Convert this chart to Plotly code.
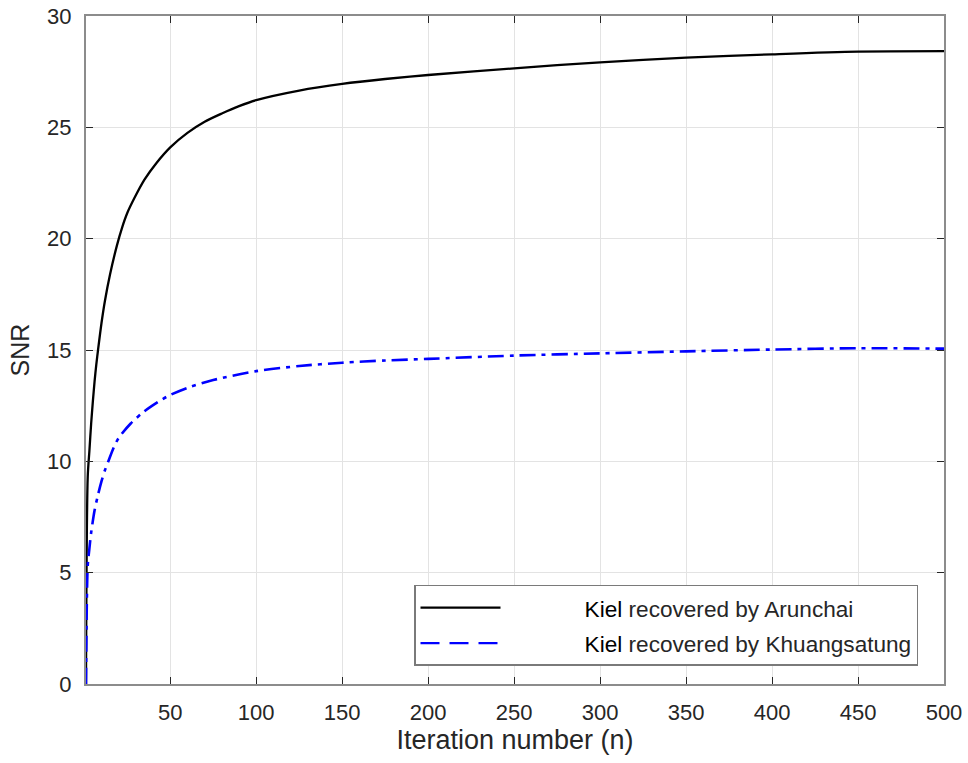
import plotly.graph_objects as go

# Data
n_arun = [1, 2, 3, 4, 5, 6, 7, 8, 10, 12, 15, 19, 22, 25, 29, 35, 42, 50, 60, 70, 80, 90,
          100, 125, 150, 175, 200, 250, 300, 350, 400, 450, 500]
snr_arun = [0, 9.3, 10.5, 11.7, 12.7, 13.6, 14.35, 15.0, 16.2, 17.2, 18.4, 19.7, 20.5, 21.15,
            21.8, 22.65, 23.4, 24.1, 24.75, 25.25, 25.62, 25.95, 26.22, 26.65, 26.95, 27.17,
            27.35, 27.65, 27.92, 28.13, 28.28, 28.4, 28.42]

n_khu = [1, 2, 3, 4, 6, 8, 10, 12, 14, 17, 20, 27, 35, 45, 50, 60, 75, 100, 125, 150, 175,
         200, 250, 300, 350, 400, 450, 500]
snr_khu = [0, 5.3, 6.1, 6.8, 7.8, 8.5, 9.1, 9.6, 10.0, 10.6, 11.05, 11.7, 12.25, 12.77, 12.98,
           13.3, 13.65, 14.05, 14.28, 14.43, 14.53, 14.6, 14.75, 14.85, 14.94, 15.02,
           15.08, 15.06]

legend_names = ["Kiel recovered by Arunchai", "Kiel recovered by Khuangsatung"]
x_ticks = [50, 100, 150, 200, 250, 300, 350, 400, 450, 500]
y_ticks = [0, 5, 10, 15, 20, 25, 30]

FONT = "Liberation Sans, Arial, sans-serif"
TXT = "#262626"
pad = "\u2003\u2003\u2003\u2002"


def legend_label(name):
    first, rest = name.split(" ", 1)
    return pad + "<span style='color:#000000'>" + first + "</span> " + rest


fig = go.Figure()
fig.add_trace(go.Scatter(x=n_arun, y=snr_arun, mode="lines", showlegend=False,
                         line=dict(color="black", width=2.3, shape="spline", smoothing=0.8)))
fig.add_trace(go.Scatter(x=n_khu, y=snr_khu, mode="lines", showlegend=False,
                         line=dict(color="#0000ff", width=2.6, dash="16px,6px,4px,6px",
                                   shape="spline", smoothing=0.8)))
# legend entries (the reference legend shows a dashed sample for the blue series)
fig.add_trace(go.Scatter(x=[None], y=[None], mode="lines", name=legend_label(legend_names[0]),
                         legendgroup="a", line=dict(color="black", width=2.3)))
fig.add_trace(go.Scatter(x=[None], y=[None], mode="lines", name=legend_label(legend_names[1]),
                         legendgroup="b", line=dict(color="#0000ff", width=2.3, dash="19px,10px")))

axis_common = dict(
    showline=True, linecolor="#8c8c8c", linewidth=2, mirror="ticks",
    ticks="inside", ticklen=7, tickcolor="#262626", tickwidth=1,
    showgrid=True, gridcolor="#e3e3e3", gridwidth=1, zeroline=False,
    tickfont=dict(family=FONT, size=22, color=TXT), ticklabelstandoff=8,
    ticklabeloverflow="allow", automargin=False,
)

fig.update_layout(
    width=968, height=763,
    margin=dict(l=86, r=24, t=16, b=79),
    paper_bgcolor="white", plot_bgcolor="white",
    font=dict(family=FONT, color=TXT),
    xaxis=dict(range=[1, 500], tickvals=x_ticks,
               title=dict(text="Iteration number (n)", font=dict(family=FONT, size=27, color=TXT),
                          standoff=6),
               **axis_common),
    yaxis=dict(range=[0, 30], tickvals=y_ticks,
               title=dict(text="SNR", font=dict(family=FONT, size=25, color=TXT), standoff=10),
               **axis_common),
    legend=dict(x=0.9697, y=0.0876, xanchor="right", yanchor="middle",
                bgcolor="white", bordercolor="#7a7a7a", borderwidth=1.5,
                font=dict(family=FONT, size=22.6, color=TXT),
                itemwidth=80, traceorder="grouped", tracegroupgap=3),
)

fig.write_html("out.html", config={"displayModeBar": False},
               post_script="document.body.style.margin='0';")
